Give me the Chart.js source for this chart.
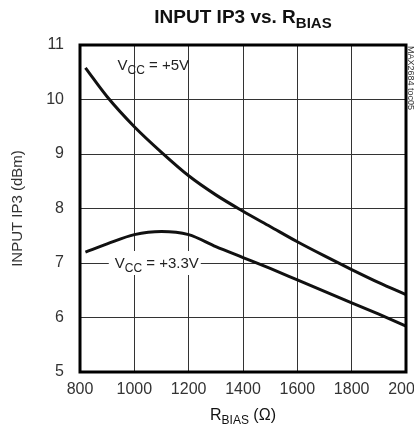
<!DOCTYPE html>
<html>
<head>
<meta charset="utf-8">
<script src="https://cdn.jsdelivr.net/npm/chart.js@4"></script>
<style>
  html, body { margin: 0; padding: 0; background: #fff; }
  #wrap { width: 414px; height: 428px; position: relative; }
</style>
</head>
<body>
<div id="wrap"><canvas id="ip3Chart" width="414" height="428"></canvas></div>
<script>
const FONT = "'Liberation Sans Narrow', 'Liberation Sans', 'DejaVu Sans', sans-serif";
const COND = 'condensed';

// R_BIAS in ohms
const rbias = [820, 900, 1000, 1100, 1200, 1300, 1400, 1500, 1600, 1700, 1800, 1900, 2000];
// input IP3 in dBm
const ip3Vcc5 = [10.58, 10.05, 9.5, 9.03, 8.6, 8.25, 7.95, 7.67, 7.39, 7.13, 6.88, 6.64, 6.42];
const ip3Vcc33 = [7.2, 7.35, 7.52, 7.58, 7.52, 7.3, 7.1, 6.9, 6.69, 6.48, 6.27, 6.06, 5.84];
const xTicks = [800, 1000, 1200, 1400, 1600, 1800, 2000];
const yTicks = [5, 6, 7, 8, 9, 10, 11];

const toPts = (ys) => rbias.map((x, i) => ({ x: x, y: ys[i] }));

// text with a subscript part: [ [text, isSub], ... ]
function drawParts(c, parts, x, y, size, bold, align) {
  const w0 = (bold ? 'bold ' : '') + COND + ' ';
  const main = w0 + size + 'px ' + FONT;
  const sub = w0 + Math.round(size * 0.78) + 'px ' + FONT;
  let w = 0;
  parts.forEach(p => { c.font = p[1] ? sub : main; w += c.measureText(p[0]).width; });
  let cx = align === 'center' ? x - w / 2 : x;
  c.textBaseline = 'alphabetic';
  c.textAlign = 'left';
  parts.forEach(p => {
    c.font = p[1] ? sub : main;
    c.fillText(p[0], cx, p[1] ? y + size * 0.28 : y);
    cx += c.measureText(p[0]).width;
  });
  return w;
}

const labelsPlugin = {
  id: 'labels',
  afterDraw(chart) {
    const c = chart.ctx;
    const xs = chart.scales.x, ys = chart.scales.y;
    c.save();
    c.fillStyle = '#111';
    // title
    drawParts(c, [['INPUT IP3 vs. R', false], ['BIAS', true]], 243, 23, 19, true, 'center');
    // x axis title
    drawParts(c, [['R', false], ['BIAS', true], [' (\u03A9)', false]], 243, 420, 16, false, 'center');
    // curve labels
    c.fillStyle = '#222';
    drawParts(c, [['V', false], ['CC', true], [' = +5V', false]], xs.getPixelForValue(938), ys.getPixelForValue(10.55), 15, false, 'left');
    const lx = xs.getPixelForValue(928), ly = ys.getPixelForValue(7);
    c.fillStyle = '#fff';
    c.fillRect(lx - 6, ly - 12, 92, 24);
    c.fillStyle = '#222';
    drawParts(c, [['V', false], ['CC', true], [' = +3.3V', false]], lx, ly + 5, 15, false, 'left');
    // side code
    c.translate(406, 46);
    c.rotate(Math.PI / 2);
    c.font = COND + ' 9px ' + FONT;
    c.fillStyle = '#333';
    c.fillText('MAX2684 toc05', 0, -2);
    c.restore();
  }
};

const borderPlugin = {
  id: 'frame',
  afterDatasetsDraw(chart) {
    const a = chart.chartArea, c = chart.ctx;
    c.save();
    c.strokeStyle = '#000';
    c.lineWidth = 3;
    c.strokeRect(a.left, a.top, a.right - a.left, a.bottom - a.top);
    c.restore();
  }
};

new Chart(document.getElementById('ip3Chart').getContext('2d'), {
  type: 'line',
  data: {
    datasets: [
      { label: 'VCC = +5V', data: toPts(ip3Vcc5), borderColor: '#111', borderWidth: 3, pointRadius: 0, cubicInterpolationMode: 'monotone' },
      { label: 'VCC = +3.3V', data: toPts(ip3Vcc33), borderColor: '#111', borderWidth: 3, pointRadius: 0, cubicInterpolationMode: 'monotone' }
    ]
  },
  options: {
    responsive: false,
    animation: false,
    layout: { padding: { top: 45, right: 8, left: 0, bottom: 0 } },
    plugins: {
      legend: { display: false },
      tooltip: { enabled: false }
    },
    scales: {
      x: {
        type: 'linear',
        min: 800,
        max: 2000,
        afterBuildTicks: (s) => { s.ticks = xTicks.map(v => ({ value: v })); },
        afterFit: (s) => { s.height = 56; s.paddingLeft = 0; s.paddingRight = 0; },
        grid: { color: '#333', lineWidth: 1, drawTicks: false },
        border: { display: false },
        ticks: { color: '#333', padding: 8, maxRotation: 0, callback: (v) => String(v), font: { family: FONT, size: 16, weight: COND } }
      },
      y: {
        min: 5,
        max: 11,
        afterBuildTicks: (s) => { s.ticks = yTicks.map(v => ({ value: v })); },
        afterFit: (s) => { s.width = 80; s.paddingTop = 0; s.paddingBottom = 0; },
        grid: { color: '#333', lineWidth: 1, drawTicks: false },
        border: { display: false },
        ticks: { color: '#333', padding: 16, font: { family: FONT, size: 16, weight: COND } },
        title: { display: true, text: 'INPUT IP3 (dBm)', color: '#333', padding: { top: 9, bottom: 0 }, font: { family: FONT, size: 15, weight: COND } }
      }
    }
  },
  plugins: [labelsPlugin, borderPlugin]
});
</script>
</body>
</html>
